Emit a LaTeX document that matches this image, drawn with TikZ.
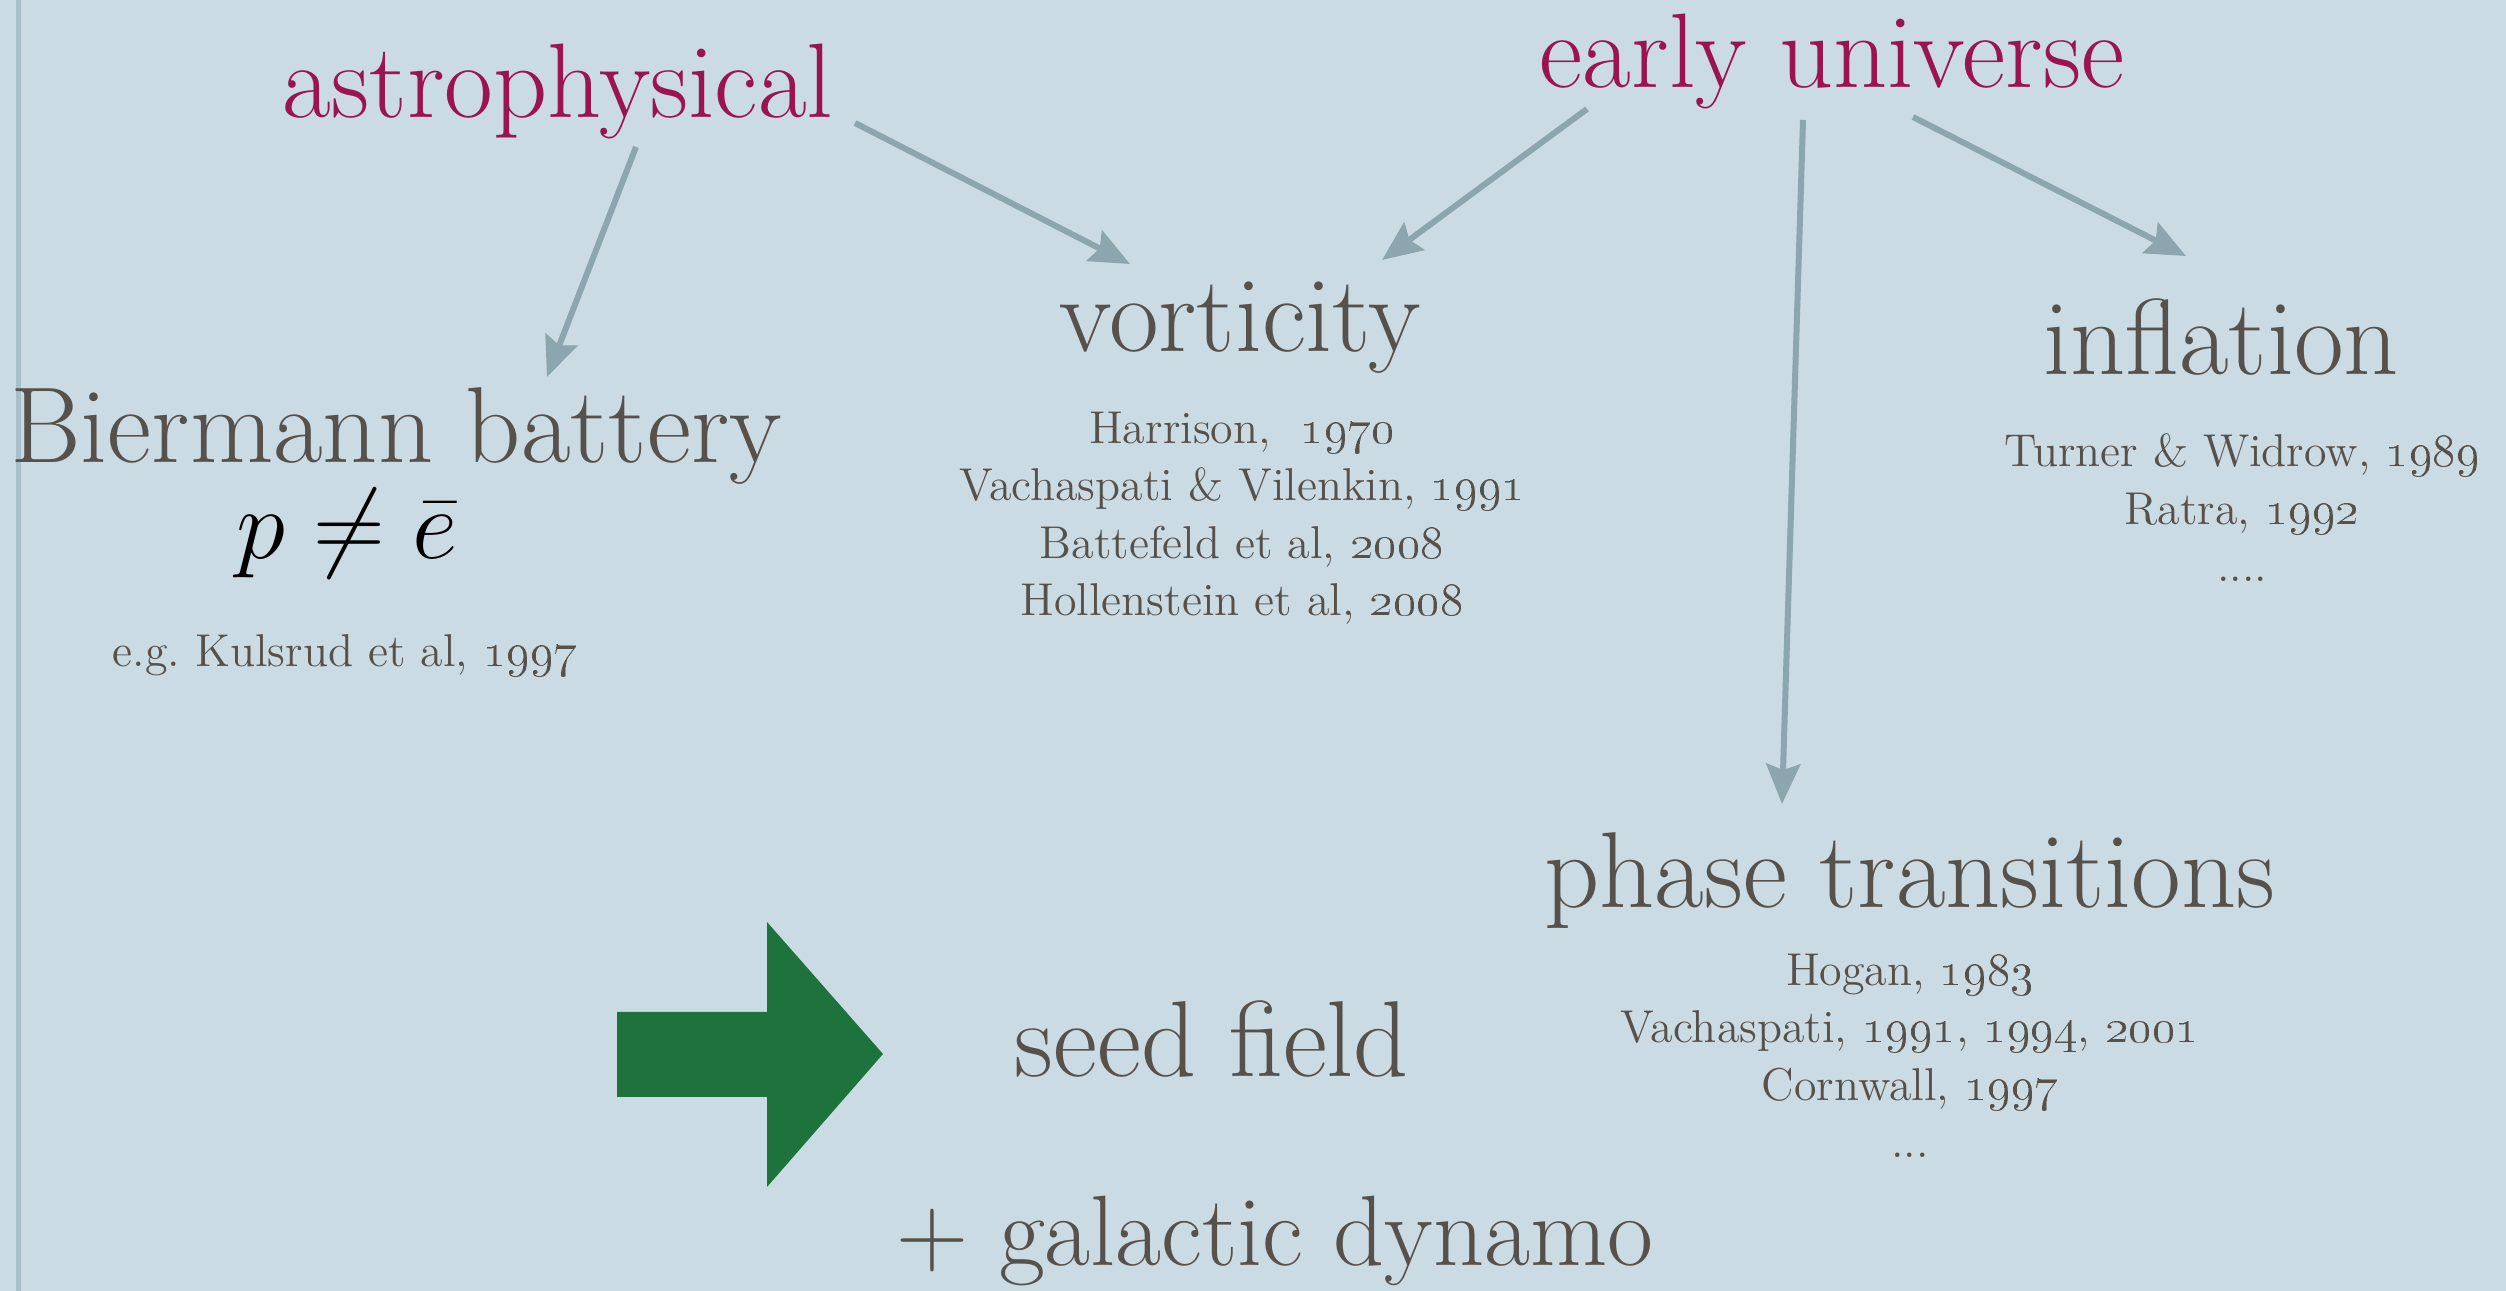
\documentclass[tikz,border=0pt]{standalone}
\usetikzlibrary{arrows.meta,calc}
\definecolor{bgc}{HTML}{CBDBE3}
\definecolor{edgec}{HTML}{A7BFCB}
\definecolor{crim}{HTML}{9A1450}
\definecolor{txt}{HTML}{57514C}
\definecolor{connc}{HTML}{8CA5AE}
\definecolor{grn}{HTML}{1D733B}
\newcommand{\os}[1]{\oldstylenums{#1}}
\begin{document}
\begin{tikzpicture}[x=0.25pt,y=-0.25pt,
  lbl/.style={inner sep=0pt, anchor=base, font=\fontsize{27}{30}\selectfont},
  headlbl/.style={lbl, text=crim, font=\fontsize{26.5}{30}\selectfont},
  topiclbl/.style={lbl, text=txt},
  refs/.style={inner sep=0pt, anchor=base, align=center, text=txt, font=\fontsize{11.5}{14.4}\selectfont},
  link/.style={draw=connc, line width=1.5pt, -{Stealth[length=10pt,width=8.5pt,inset=1.5pt]}}]
\fill[bgc] (0,0) rectangle (2506,1291);
\useasboundingbox (0,0) rectangle (2506,1291);
\fill[edgec] (16,0) rectangle (21,1291);

% headings
\node[headlbl] (astro) at (558,118) {astrophysical};
\node[headlbl] (early) at (1832,88) {early universe};

% topics
\node[topiclbl] (bier) at (396,463) {Biermann battery};
\node[lbl, text=black, font=\fontsize{24}{28}\selectfont] (math) at (347,559) {$p \neq \bar{e}$};
\node[refs] (kuls) at (345,667) {e.g.\ Kulsrud et al, \os{1997}};

\node[topiclbl] (vort) at (1240,352) {vorticity};
\node[refs] (vortrefs) at (1242,616) {Harrison,\ \ \os{1970}\\Vachaspati \& Vilenkin, \os{1991}\\Battefeld et al, \os{2008}\\Hollenstein et al, \os{2008}};

\node[topiclbl] (infl) at (2221,375) {inflation};
\node[refs] (inflrefs) at (2242,582) {Turner \& Widrow, \os{1989}\\Ratra, \os{1992}\\....};

\node[topiclbl] (phase) at (1910,908) {phase transitions};
\node[refs] (phaserefs) at (1910,1158) {Hogan, \os{1983}\\Vachaspati, \os{1991}, \os{1994}, \os{2001}\\Cornwall, \os{1997}\\...};

\node[topiclbl] (seed) at (1212,1077) {seed field};
\node[lbl, text=txt, font=\fontsize{25}{30}\selectfont] (dyn) at (1275,1265) {+ galactic dynamo};

% green arrow
\fill[grn] (617,1012) -- (767,1012) -- (767,922) -- (883,1054) -- (767,1187) -- (767,1097) -- (617,1097) -- cycle;

% connectors
\draw[link] ($(astro.base)+(78,29)$) -- ($(bier.base)+(151,-86)$);
\draw[link] ($(astro.base)+(297,5)$) -- ($(vort.base)+(-110,-88)$);
\draw[link] ($(early.base)+(-245,21)$) -- ($(vort.base)+(142,-92)$);
\draw[link] ($(early.base)+(-29,32)$) -- ($(phase.base)+(-128,-104)$);
\draw[link] ($(early.base)+(81,29)$) -- ($(infl.base)+(-35,-119)$);
\end{tikzpicture}
\end{document}
